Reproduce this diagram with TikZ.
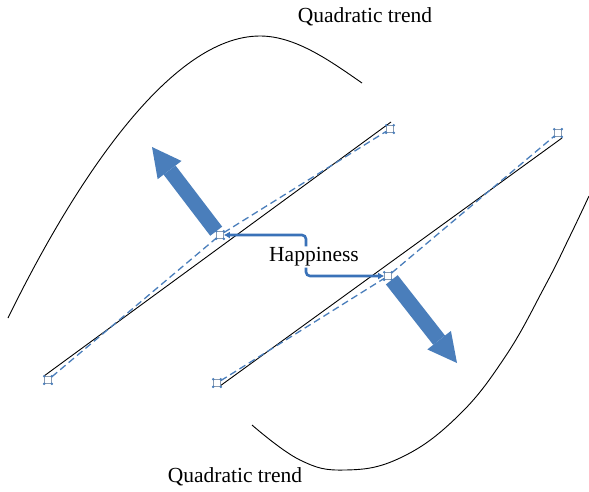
\documentclass[tikz,border=0pt]{standalone}
\usepackage{fontspec}
\setmainfont{Liberation Serif}
\usetikzlibrary{arrows.meta, positioning, backgrounds}
\definecolor{trendblue}{HTML}{4A7EBB}
\definecolor{linkblue}{HTML}{3A72B8}
\definecolor{handlegray}{HTML}{8A9BB0}
\tikzset{
  lbl/.style={font=\fontsize{21.5}{26}\selectfont, inner sep=1pt},
  trend/.style={line width=0.9pt, draw=black},
  fitline/.style={line width=1.3pt, draw=trendblue, dash pattern=on 7pt off 4pt},
  handle/.style={draw=handlegray, fill=white, line width=0.6pt, minimum size=7pt, inner sep=0pt},
  push/.style={line width=15pt, draw=trendblue, -{Triangle[length=29pt, width=30pt, line width=0pt]}},
  link/.style={line width=2.6pt, draw=linkblue, rounded corners=4pt, -{Latex[length=6pt, width=7pt]}},
}

\begin{document}
\begin{tikzpicture}[x=1pt, y=-1pt]
  \useasboundingbox (0,0) rectangle (589,491);
  \draw[trend] (8,318) .. controls (74,183) and (170,36) .. (260,36) .. controls (295,36) and (329,60) .. (362,83);
  \draw[trend] plot[smooth, tension=0.7] coordinates {(252,425) (300,460) (345,470) (400,458) (457,417) (505,357) (545,286) (570,236) (589,196)};
  \node[lbl] (topq) at (365,17) {Quadratic trend};
  \node[lbl] (botq) at (235,477) {Quadratic trend};
  \node[handle] (a1) at (48,380) {};
  \node[handle] (kA) at (220,235) {};
  \node[handle] (a2) at (390,129) {};
  \node[handle] (b1) at (217,383) {};
  \node[handle] (kB) at (388,276) {};
  \node[handle] (b2) at (558,133) {};
  \foreach \h in {a1,kA,a2,b1,kB,b2}
    \foreach \c in {north west,north east,south west,south east}
      \fill[trendblue] (\h.\c) circle (1.4);
  \coordinate (upTip) at (152,147);
  \coordinate (downTip) at (457,363);
  \begin{scope}[on background layer]
    \draw[trend] (44,376) -- (391,122);
    \draw[trend] (220,386) -- (562,138);
    \draw[fitline] (a1) -- (kA) -- (a2);
    \draw[fitline] (b1) -- (kB) -- (b2);
    \draw[push] (kA.north west) -- (upTip);
    \draw[push] (kB.south east) -- (downTip);
  \end{scope}
  \node[lbl] (hap) at (314,257) {Happiness};
  \draw[link] ([xshift=-8pt]hap.north) |- (kA);
  \draw[link] ([xshift=-8pt]hap.south) |- (kB);
\end{tikzpicture}
\end{document}
